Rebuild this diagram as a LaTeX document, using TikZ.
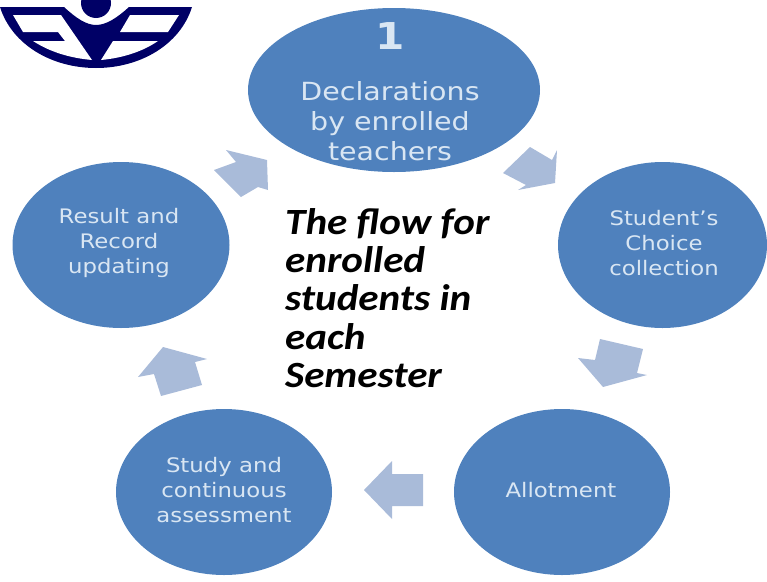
\documentclass[tikz,border=0pt]{standalone}
\usepackage{fontspec}
\setmainfont[FakeStretch=1.14]{DejaVu Sans}
\newfontfamily\flowfont[FakeStretch=1.11]{Carlito}
\usetikzlibrary{shapes.geometric}
\definecolor{bubble}{HTML}{4F81BD}
\definecolor{bubbletext}{HTML}{D9E6F3}
\definecolor{chev}{HTML}{A9BBD9}
\definecolor{logoblue}{HTML}{000066}
\tikzset{
 x=1pt,y=-1pt,
 bub/.style={ellipse,fill=bubble,inner sep=0pt},
 txt/.style={text=bubbletext,align=center,inner sep=0pt},
 small/.style={txt,font=\fontsize{20}{25}\selectfont},
 big/.style={txt,font=\fontsize{25}{30}\selectfont},
 chevron/.style={fill=chev,draw=none},
 logo/.style={fill=logoblue,draw=none},
 logohole/.style={fill=white,draw=none}
}
\begin{document}
\begin{tikzpicture}
\useasboundingbox (0,0) rectangle (767,581);
% logo
\begin{scope}
\clip (0,0) rectangle (767,581);
\fill[logo] (96,3) circle (15);
\fill[logo] (0,7) -- (64,7) .. controls (76,18) and (86,25) .. (96,25) .. controls (106,25) and (117,18) .. (129,7) -- (192,7) .. controls (180,45) and (140,68) .. (96,68) .. controls (52,68) and (12,45) .. (0,7) -- cycle;
\fill[logohole] (13,15) -- (61,15) -- (92,60) .. controls (70,58) and (50,52) .. (33,41) -- (65,41) -- (58,32) -- (23,32) -- cycle;
\fill[logohole] (130,15) -- (179,15) -- (168,32) -- (120,32) -- cycle;
\fill[logohole] (113,41) -- (158,41) .. controls (142,52) and (122,58) .. (101,60) -- cycle;
\end{scope}
% bubbles
\node[bub,minimum width=292,minimum height=164] (decl) at (394,90) {};
\node[txt,font=\fontsize{37}{40}\bfseries\selectfont] (one) at (390,36) {1};
\node[big] (decltext) at (390,121) {Declarations\\by enrolled\\teachers};
\node[bub,minimum width=209,minimum height=166] (choice) at (662.5,245) {};
\node[small] (choicetext) at (664,243) {Student’s\\Choice\\collection};
\node[bub,minimum width=216,minimum height=166] (allot) at (562,492) {};
\node[small] (allottext) at (561,490) {Allotment};
\node[bub,minimum width=216,minimum height=166] (study) at (224,492) {};
\node[small] (studytext) at (224,490) {Study and\\continuous\\assessment};
\node[bub,minimum width=217,minimum height=166] (result) at (121,245) {};
\node[small] (resulttext) at (119,243) {Result and\\Record\\updating};
% chevrons
\fill[chevron] (503,173) -- (530,147) -- (552,160) -- (557,150) -- (555,183) -- (518,190) -- (526,185) -- cycle;
\fill[chevron] (600,339) -- (643,349) -- (637,373) -- (647,375) -- (603,387) -- (578,358) -- (595,360) -- cycle;
\fill[chevron] (423,474) -- (392,474) -- (392,461) -- (364,490) -- (392,519) -- (392,506) -- (423,506) -- cycle;
\fill[chevron] (138,377) -- (163,347) -- (207,359) -- (195,362) -- (202,385) -- (161,396) -- (154,374) -- cycle;
\fill[chevron] (214,170) -- (236,162) -- (226,150) -- (267,160) -- (268,190) -- (258,187) -- (241,197) -- cycle;
% centre text
\node[anchor=west,align=left,inner sep=0pt,font=\flowfont\fontsize{37}{38.3}\bfseries\itshape\selectfont] (flow) at (285,298) {The flow for\\enrolled\\students in\\each\\Semester};
\end{tikzpicture}
\end{document}
